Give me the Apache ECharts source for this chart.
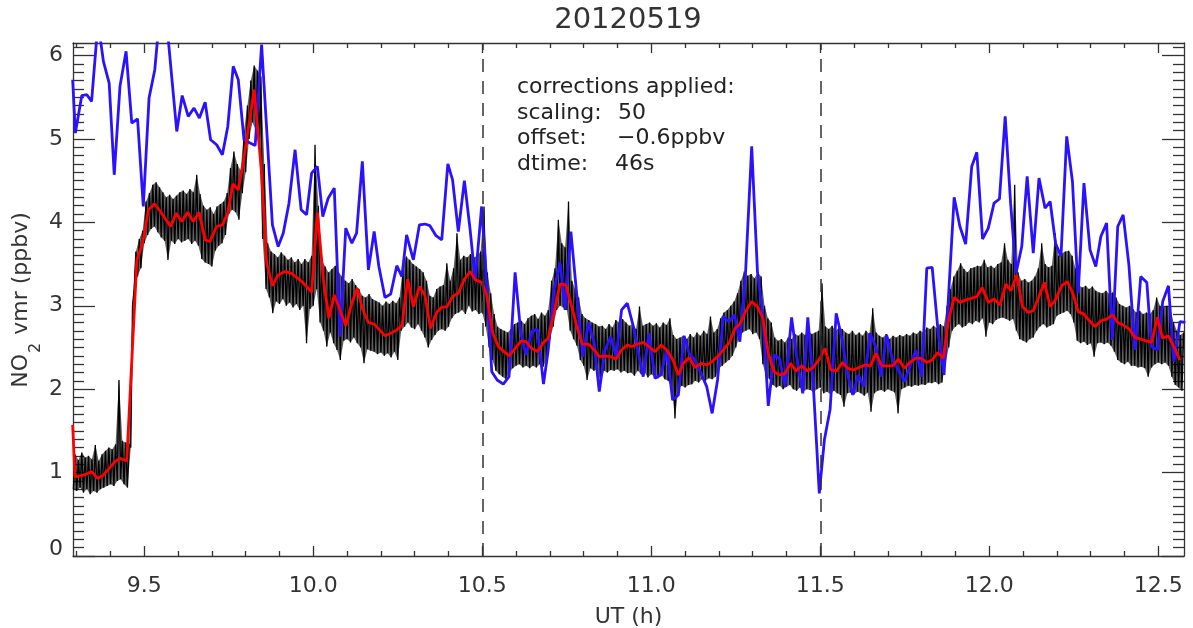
<!DOCTYPE html>
<html>
<head>
<meta charset="utf-8">
<script src="https://cdn.jsdelivr.net/npm/echarts@6/dist/echarts.min.js"></script>
<style>
  html, body { margin: 0; padding: 0; background: #ffffff; }
  #chart { width: 1193px; height: 628px; }
</style>
</head>
<body>
<div id="chart"></div>
<script>
// Axis extents: UT in hours, NO2 volume mixing ratio in ppbv
const utRange = [9.289, 12.576];
const vmrRange = [0, 6.15];
const utTickLabels = [9.5, 10.0, 10.5, 11.0, 11.5, 12.0, 12.5];
const vmrTickLabels = [0, 1, 2, 3, 4, 5, 6];
const segmentMarks = [10.5, 11.5];

// Fast NO2 trace (black): low / high of the signal in each 0.01 h bin starting at 9.29 UT
const fastStart = 9.29;
const fastStep = 0.01;
const fastHigh = [
  1.22,1.15,1.24,1.18,1.20,1.16,1.33,1.14,1.22,1.26,
  1.30,1.28,1.34,2.11,1.38,1.36,1.34,3.00,3.65,3.80,
  3.90,4.25,4.35,4.45,4.48,4.42,4.36,4.30,4.33,4.28,
  4.32,4.36,4.38,4.34,4.40,4.36,4.57,4.34,4.20,4.15,
  4.18,4.10,4.19,4.22,4.25,4.35,4.65,4.85,4.70,4.62,
  5.10,5.40,5.70,5.88,5.82,5.75,4.70,3.75,3.65,3.62,
  3.58,3.64,3.60,3.55,3.58,3.52,3.56,3.50,3.56,3.52,
  3.60,4.93,4.20,3.55,3.47,3.40,3.44,3.48,3.40,3.35,
  3.30,3.27,3.32,3.25,3.20,3.12,3.10,3.14,3.08,3.06,
  3.04,3.00,3.05,3.02,3.06,3.03,3.10,3.45,3.59,3.55,
  3.50,3.47,3.44,3.40,3.30,3.12,3.10,3.20,3.23,3.25,
  3.51,3.30,3.45,3.87,3.55,3.60,3.58,3.62,3.58,3.60,
  3.65,4.19,3.40,3.15,2.90,2.75,2.72,2.70,2.68,2.72,
  2.78,2.80,2.82,2.78,2.85,2.88,2.90,2.84,2.92,2.88,
  2.95,3.30,3.45,4.03,3.75,3.70,4.25,3.30,3.20,3.10,
  2.90,2.85,2.83,2.80,2.78,2.75,2.76,2.72,2.78,2.74,
  2.83,2.80,2.84,2.80,2.76,2.78,2.72,2.99,2.76,2.78,
  2.80,2.76,2.79,2.74,2.80,2.77,2.85,2.65,2.60,2.62,
  2.64,2.60,2.66,2.62,2.68,2.64,2.70,2.66,2.87,2.68,
  2.72,2.85,2.92,2.95,3.00,3.05,3.15,3.30,3.41,3.36,
  3.38,3.33,3.40,3.35,3.00,2.85,2.80,2.62,2.58,2.60,
  2.56,2.62,2.60,2.66,2.64,2.68,2.65,2.70,2.66,2.68,
  2.70,3.27,2.75,2.72,2.76,2.70,2.74,2.72,2.68,2.66,
  2.70,2.65,2.68,2.64,2.70,2.66,2.97,2.68,2.64,2.62,
  2.66,2.60,2.64,2.62,2.65,2.63,2.66,2.64,2.68,2.66,
  2.70,2.68,2.74,2.72,2.76,2.73,2.78,2.75,3.00,3.20,
  3.35,3.42,3.51,3.44,3.40,3.45,3.46,3.48,3.47,3.55,
  3.46,3.48,3.45,3.50,3.52,3.75,3.55,3.50,4.45,3.40,
  3.30,3.32,3.28,3.30,3.35,3.45,3.75,3.50,3.46,3.48,
  3.87,3.60,3.63,3.65,3.66,3.60,3.45,3.25,3.22,3.24,
  3.20,3.23,3.18,3.16,3.15,3.18,3.14,3.16,3.10,3.02,
  3.00,2.98,3.00,2.96,2.92,2.94,2.90,2.92,2.90,2.95,
  3.10,3.00,2.98,3.00,2.97,2.80,2.70,2.65,2.68
];
const fastLow = [
  0.80,0.78,0.82,0.76,0.80,0.74,0.78,0.76,0.80,0.82,
  0.84,0.86,0.84,0.90,0.92,0.86,0.82,1.30,3.20,3.35,
  3.45,3.75,3.85,3.92,3.95,3.88,3.82,3.78,3.55,3.78,
  3.74,3.80,3.76,3.78,3.80,3.74,3.78,3.72,3.56,3.52,
  3.50,3.47,3.66,3.72,3.75,3.85,4.10,4.15,4.12,4.03,
  4.35,4.60,5.00,5.20,5.10,4.90,3.80,3.20,3.10,2.91,
  3.05,3.02,3.08,3.00,3.04,2.98,3.02,2.95,3.00,2.55,
  2.96,3.00,3.20,2.80,2.70,2.51,2.68,2.55,2.47,2.35,
  2.58,2.60,2.56,2.62,2.55,2.50,2.31,2.48,2.46,2.45,
  2.42,2.44,2.40,2.43,2.38,2.45,2.35,2.70,2.75,2.80,
  2.74,2.72,2.78,2.70,2.62,2.50,2.59,2.65,2.70,2.72,
  2.70,2.75,2.85,2.90,2.92,2.95,2.90,3.00,2.93,2.95,
  2.90,2.92,2.75,2.50,2.35,2.22,2.18,2.15,2.12,2.20,
  2.25,2.28,2.30,2.26,2.28,2.25,2.28,2.26,2.30,2.27,
  2.35,2.60,2.75,2.95,3.00,2.98,2.95,2.70,2.60,2.52,
  2.35,2.28,2.11,2.25,2.22,2.24,2.08,2.22,2.20,2.23,
  2.22,2.24,2.20,2.22,2.19,2.20,2.16,2.22,2.18,2.20,
  2.14,2.18,2.15,2.13,2.17,2.12,2.10,2.02,1.65,2.00,
  2.04,2.02,2.05,2.06,2.10,2.08,2.12,2.10,2.13,2.12,
  2.15,2.25,2.28,2.32,2.35,2.40,2.50,2.62,2.68,2.70,
  2.72,2.66,2.68,2.60,2.30,2.15,2.12,2.05,2.02,2.04,
  2.00,2.03,2.05,2.00,1.98,2.02,1.97,2.00,1.99,1.96,
  2.00,2.02,1.95,1.97,1.94,1.98,1.95,1.93,1.79,1.95,
  1.96,1.94,1.97,1.95,1.92,1.96,1.73,1.95,1.98,1.99,
  1.97,2.00,1.98,1.96,1.71,2.00,2.02,2.04,2.03,2.05,
  2.04,2.06,2.05,2.08,2.07,2.09,2.06,2.08,2.30,2.50,
  2.70,2.75,2.78,2.74,2.76,2.80,2.78,2.82,2.80,2.85,
  2.63,2.80,2.78,2.83,2.85,2.86,2.84,2.82,2.84,2.70,
  2.60,2.58,2.56,2.60,2.62,2.70,2.75,2.78,2.74,2.76,
  2.78,2.88,2.90,2.92,2.94,2.90,2.80,2.58,2.55,2.57,
  2.53,2.55,2.39,2.55,2.56,2.54,2.56,2.52,2.45,2.35,
  2.32,2.30,2.33,2.28,2.28,2.26,2.27,2.25,2.15,2.26,
  2.30,2.32,2.30,2.32,2.28,2.15,2.05,2.02,1.98
];

// One-minute means of the fast trace (red): [UT h, ppbv]
const minuteMean = [
  [9.288,1.57],[9.295,0.95],[9.320,0.97],[9.344,1.01],[9.362,0.93],[9.379,0.97],[9.396,1.05],[9.413,1.13],
  [9.428,1.17],[9.448,1.14],[9.478,3.55],[9.495,3.75],[9.512,4.15],[9.530,4.22],[9.546,4.14],[9.561,4.05],
  [9.578,3.95],[9.594,4.11],[9.611,4.01],[9.628,4.12],[9.645,4.01],[9.662,4.12],[9.680,3.79],[9.694,3.77],
  [9.714,3.95],[9.731,3.97],[9.747,4.11],[9.762,4.46],[9.778,4.39],[9.793,4.73],[9.825,5.59],[9.847,4.59],
  [9.862,3.51],[9.879,3.24],[9.896,3.37],[9.916,3.41],[9.934,3.39],[9.951,3.34],[9.966,3.29],[9.980,3.23],
  [9.995,3.16],[10.012,4.12],[10.030,3.31],[10.046,2.85],[10.062,3.13],[10.079,2.95],[10.096,2.76],[10.114,3.03],
  [10.130,3.21],[10.145,2.97],[10.163,2.80],[10.180,2.78],[10.194,2.72],[10.212,2.64],[10.229,2.67],[10.247,2.71],
  [10.263,2.77],[10.279,3.32],[10.296,2.99],[10.314,3.23],[10.330,3.13],[10.347,2.73],[10.365,2.92],[10.379,2.98],
  [10.396,2.99],[10.412,3.11],[10.429,3.15],[10.446,3.31],[10.464,3.41],[10.480,3.31],[10.498,3.28],[10.513,3.13],
  [10.531,2.67],[10.548,2.51],[10.564,2.45],[10.580,2.40],[10.597,2.49],[10.615,2.58],[10.629,2.57],[10.646,2.49],
  [10.663,2.45],[10.681,2.56],[10.695,2.61],[10.712,2.91],[10.730,3.26],[10.747,3.25],[10.762,3.03],[10.779,2.76],
  [10.796,2.54],[10.814,2.54],[10.831,2.47],[10.846,2.39],[10.863,2.40],[10.880,2.39],[10.896,2.36],[10.912,2.47],
  [10.929,2.53],[10.943,2.51],[10.957,2.54],[10.976,2.56],[10.993,2.51],[11.011,2.45],[11.029,2.53],[11.046,2.47],
  [11.063,2.36],[11.080,2.17],[11.095,2.31],[11.112,2.38],[11.129,2.26],[11.147,2.31],[11.164,2.29],[11.180,2.33],
  [11.198,2.40],[11.215,2.48],[11.231,2.56],[11.248,2.73],[11.262,2.78],[11.279,2.93],[11.297,3.05],[11.314,2.99],
  [11.330,2.85],[11.346,2.43],[11.363,2.21],[11.379,2.17],[11.396,2.19],[11.412,2.31],[11.428,2.22],[11.445,2.28],
  [11.462,2.22],[11.479,2.26],[11.497,2.36],[11.514,2.49],[11.531,2.23],[11.549,2.22],[11.565,2.32],[11.581,2.25],
  [11.598,2.23],[11.615,2.26],[11.632,2.29],[11.649,2.28],[11.664,2.43],[11.682,2.28],[11.698,2.28],[11.714,2.28],
  [11.731,2.36],[11.749,2.25],[11.765,2.32],[11.782,2.37],[11.798,2.37],[11.815,2.32],[11.831,2.35],[11.847,2.44],
  [11.864,2.37],[11.878,2.80],[11.896,3.10],[11.913,3.04],[11.931,3.07],[11.948,3.09],[11.963,3.11],[11.979,3.22],
  [11.997,3.04],[12.014,3.08],[12.032,3.01],[12.049,3.26],[12.064,3.18],[12.081,3.37],[12.098,2.99],[12.115,2.92],
  [12.130,2.94],[12.147,3.11],[12.163,3.28],[12.180,2.99],[12.196,3.07],[12.214,3.24],[12.231,3.29],[12.247,3.15],
  [12.263,2.93],[12.280,2.90],[12.296,2.82],[12.313,2.75],[12.330,2.82],[12.347,2.84],[12.364,2.89],[12.380,2.80],
  [12.396,2.77],[12.414,2.72],[12.431,2.62],[12.448,2.60],[12.464,2.58],[12.480,2.56],[12.497,2.86],[12.513,2.61],
  [12.530,2.64],[12.546,2.51],[12.564,2.35]
];

// Comparison NO2 record (blue): [UT h, ppbv]
const comparison = [
  [9.288,5.71],[9.296,5.07],[9.315,5.52],[9.330,5.53],[9.344,5.45],[9.363,6.40],[9.379,5.93],[9.396,5.67],
  [9.411,4.57],[9.428,5.63],[9.446,6.05],[9.463,5.19],[9.480,5.24],[9.497,4.19],[9.514,5.49],[9.531,5.83],
  [9.548,6.60],[9.565,6.45],[9.596,5.09],[9.612,5.52],[9.630,5.27],[9.647,5.37],[9.663,5.25],[9.680,5.44],
  [9.696,4.99],[9.714,4.93],[9.731,4.81],[9.747,5.15],[9.763,5.87],[9.778,5.71],[9.795,4.99],[9.813,4.95],
  [9.828,4.92],[9.847,6.13],[9.879,3.97],[9.896,3.71],[9.911,3.87],[9.928,4.23],[9.946,4.87],[9.964,4.15],
  [9.980,4.09],[9.995,4.59],[10.012,4.67],[10.028,4.07],[10.044,4.29],[10.062,4.41],[10.079,2.63],[10.096,3.93],
  [10.114,3.75],[10.128,3.87],[10.145,4.73],[10.163,3.43],[10.180,3.89],[10.194,3.47],[10.212,3.10],[10.229,3.14],
  [10.247,3.48],[10.262,3.35],[10.276,3.85],[10.296,3.55],[10.314,3.97],[10.330,3.98],[10.345,3.96],[10.363,3.84],
  [10.380,3.79],[10.398,4.70],[10.412,4.51],[10.429,3.89],[10.447,4.50],[10.464,3.91],[10.479,3.30],[10.498,4.19],
  [10.513,3.25],[10.528,2.21],[10.544,2.11],[10.562,2.06],[10.579,2.15],[10.597,3.40],[10.614,2.67],[10.629,2.41],
  [10.646,2.69],[10.663,2.72],[10.681,2.06],[10.695,2.47],[10.712,3.19],[10.730,3.52],[10.745,2.95],[10.762,3.89],
  [10.779,3.15],[10.797,2.39],[10.814,2.80],[10.831,2.55],[10.846,1.97],[10.863,2.47],[10.880,2.63],[10.896,2.39],
  [10.912,2.95],[10.929,3.03],[10.947,2.75],[10.962,2.43],[10.976,2.15],[10.993,2.67],[11.011,2.13],[11.028,2.17],
  [11.046,2.47],[11.063,1.87],[11.080,1.93],[11.097,2.64],[11.112,2.43],[11.129,2.35],[11.147,2.19],[11.164,2.03],
  [11.180,1.71],[11.196,2.11],[11.213,2.87],[11.230,2.81],[11.246,2.89],[11.262,2.57],[11.279,3.41],[11.297,4.91],
  [11.314,3.41],[11.330,2.89],[11.346,1.80],[11.363,2.41],[11.379,2.37],[11.396,2.03],[11.415,2.86],[11.430,2.39],
  [11.448,1.95],[11.463,2.86],[11.479,2.07],[11.497,0.75],[11.512,1.39],[11.529,1.76],[11.547,2.91],[11.565,2.59],
  [11.580,2.19],[11.596,1.93],[11.612,2.17],[11.629,2.03],[11.647,2.67],[11.664,2.51],[11.680,2.15],[11.696,2.65],
  [11.714,2.35],[11.731,2.23],[11.749,2.09],[11.765,2.27],[11.783,2.47],[11.800,2.15],[11.815,3.45],[11.831,3.46],
  [11.849,2.67],[11.866,2.17],[11.896,4.30],[11.913,3.95],[11.930,3.74],[11.948,4.67],[11.963,4.84],[11.980,3.80],
  [11.997,3.93],[12.014,4.23],[12.030,4.28],[12.047,5.27],[12.063,4.23],[12.079,3.39],[12.096,3.71],[12.112,4.55],
  [12.130,3.63],[12.147,4.53],[12.165,4.17],[12.180,4.25],[12.196,3.75],[12.212,3.59],[12.229,5.03],[12.246,4.49],
  [12.263,3.15],[12.280,4.47],[12.298,3.67],[12.315,3.47],[12.330,3.83],[12.347,3.99],[12.364,2.59],[12.380,3.95],
  [12.396,4.09],[12.413,3.49],[12.431,2.47],[12.448,3.35],[12.466,3.28],[12.480,2.51],[12.497,2.47],[12.513,3.05],
  [12.530,3.24],[12.546,2.33],[12.564,2.81],[12.580,2.80]
];

// Build the fast trace: it swings between the low and high value of every bin
const fastTrace = [];
fastHigh.forEach(function (hi, i) {
  const t = fastStart + i * fastStep;
  fastTrace.push([t, fastLow[i]], [t + fastStep / 2, hi]);
});

// Minor tick positions every 0.1 between the labelled ticks
function minorTicks(lo, hi, step, majors) {
  const out = [];
  for (let k = Math.ceil(lo / step - 1e-9); k * step <= hi + 1e-9; k++) {
    const v = +(k * step).toFixed(3);
    if (!majors.some(function (m) { return Math.abs(m - v) < 1e-6; })) out.push(v);
  }
  return out;
}
const utMinor = minorTicks(utRange[0], utRange[1], 0.1, utTickLabels);
const vmrMinor = minorTicks(vmrRange[0], vmrRange[1], 0.1, vmrTickLabels);

const FONT = 'DejaVu Sans';
const INK = '#333333';
const frameLine = { color: INK, width: 1.3 };

function xAxisDef(position, tickLen, ticks, withLine, withLabels) {
  const ax = {
    type: 'value', position: position, gridIndex: 0,
    min: utRange[0], max: utRange[1],
    axisLine: { show: withLine, onZero: false, lineStyle: frameLine },
    axisTick: { show: true, inside: true, length: tickLen, customValues: ticks, lineStyle: frameLine },
    axisLabel: { show: false },
    splitLine: { show: false }
  };
  if (withLabels) {
    ax.axisLabel = {
      show: true, customValues: utTickLabels, margin: 19,
      formatter: function (v) { return v.toFixed(1); },
      fontFamily: FONT, fontSize: 22, color: INK
    };
    ax.name = 'UT (h)';
    ax.nameLocation = 'middle';
    ax.nameGap = 50;
    ax.nameTextStyle = { fontFamily: FONT, fontSize: 22, color: INK };
  }
  return ax;
}

function yAxisDef(position, tickLen, ticks, withLine, withLabels) {
  const ax = {
    type: 'value', position: position, gridIndex: 0,
    min: vmrRange[0], max: vmrRange[1],
    axisLine: { show: withLine, onZero: false, lineStyle: frameLine },
    axisTick: { show: true, inside: true, length: tickLen, customValues: ticks, lineStyle: frameLine },
    axisLabel: { show: false },
    splitLine: { show: false }
  };
  if (withLabels) {
    ax.axisLabel = {
      show: true, customValues: vmrTickLabels, margin: 10,
      // the label at the bottom corner sits a little higher, clear of the UT labels
      formatter: function (v) { return v === 0 ? '{lift|0}' : String(v); },
      rich: { lift: { fontFamily: FONT, fontSize: 22, color: INK, padding: [0, 0, 14, 0] } },
      fontFamily: FONT, fontSize: 22, color: INK
    };
  }
  return ax;
}

// Width of a string in a given font, used to lay out the rotated y-axis title
const measureCtx = document.createElement('canvas').getContext('2d');
function textWidth(str, size) {
  measureCtx.font = size + 'px "' + FONT + '"';
  return measureCtx.measureText(str).width;
}
const yTitleParts = ['NO', '2', ' vmr (ppbv)'];
const wMain1 = textWidth(yTitleParts[0], 22);
const wSub = textWidth(yTitleParts[1], 16);
const wMain2 = textWidth(yTitleParts[2], 22);
const yTitleStart = -(wMain1 + wSub + 2 + wMain2) / 2;

const noteStyle = function (str) {
  return { text: str, fontFamily: FONT, fontSize: 22, fill: '#222222', verticalAlign: 'middle' };
};

// Shaded spread of the fast signal: upper edge forward, lower edge back
function renderSpread(params, api) {
  const pts = [];
  for (let i = 0; i < fastHigh.length; i++) {
    pts.push(api.coord([fastStart + i * fastStep + fastStep / 2, fastHigh[i]]));
  }
  for (let i = fastLow.length - 1; i >= 0; i--) {
    pts.push(api.coord([fastStart + i * fastStep, fastLow[i]]));
  }
  return {
    type: 'polygon',
    shape: { points: pts },
    style: { fill: 'rgba(0,0,0,0.62)', stroke: null }
  };
}

const chart = echarts.init(document.getElementById('chart'), null, { renderer: 'canvas' });
chart.setOption({
  animation: false,
  backgroundColor: '#ffffff',
  grid: { left: 73, right: 9, top: 43, bottom: 72, containLabel: false, outerBoundsMode: 'none' },
  xAxis: [
    xAxisDef('bottom', 10, utTickLabels, true, true),
    xAxisDef('bottom', 5, utMinor, false, false),
    xAxisDef('top', 10, utTickLabels, true, false),
    xAxisDef('top', 5, utMinor, false, false)
  ],
  yAxis: [
    yAxisDef('left', 22, vmrTickLabels, true, true),
    yAxisDef('left', 11, vmrMinor, false, false),
    yAxisDef('right', 22, vmrTickLabels, true, false),
    yAxisDef('right', 11, vmrMinor, false, false)
  ],
  graphic: [
    { type: 'text', x: 628, y: 20, style: { text: '20120519', fontFamily: FONT, fontSize: 29, fill: INK, align: 'center', verticalAlign: 'middle' } },
    {
      type: 'group', x: 21, y: 300, rotation: Math.PI / 2,
      children: [
        { type: 'text', x: yTitleStart, y: 0, style: { text: yTitleParts[0], fontFamily: FONT, fontSize: 22, fill: INK, verticalAlign: 'middle' } },
        { type: 'text', x: yTitleStart + wMain1 + 1, y: 15, style: { text: yTitleParts[1], fontFamily: FONT, fontSize: 16, fill: INK, verticalAlign: 'middle' } },
        { type: 'text', x: yTitleStart + wMain1 + wSub + 2, y: 0, style: { text: yTitleParts[2], fontFamily: FONT, fontSize: 22, fill: INK, verticalAlign: 'middle' } }
      ]
    },
    { type: 'text', x: 517, y: 87, style: noteStyle('corrections applied:') },
    { type: 'text', x: 517, y: 113, style: noteStyle('scaling:') },
    { type: 'text', x: 618, y: 113, style: noteStyle('50') },
    { type: 'text', x: 517, y: 138, style: noteStyle('offset:') },
    { type: 'text', x: 617, y: 138, style: noteStyle('\u22120.6ppbv') },
    { type: 'text', x: 517, y: 164, style: noteStyle('dtime:') },
    { type: 'text', x: 615, y: 164, style: noteStyle('46s') }
  ],
  series: [
    {
      name: 'spread', type: 'custom', xAxisIndex: 0, yAxisIndex: 0,
      data: [[10.9, 3]], renderItem: renderSpread, silent: true, z: 1, clip: true
    },
    {
      name: 'fast', type: 'line', xAxisIndex: 0, yAxisIndex: 0,
      data: fastTrace, showSymbol: false, symbol: 'none', sampling: null,
      lineStyle: { color: '#000000', width: 1.3 }, z: 2,
      markLine: {
        silent: true, symbol: 'none', animation: false,
        label: { show: false },
        lineStyle: { color: INK, width: 1.5, type: [13, 9] },
        data: segmentMarks.map(function (t) { return { xAxis: t }; })
      }
    },
    {
      name: 'comparison', type: 'line', xAxisIndex: 0, yAxisIndex: 0,
      data: comparison, showSymbol: false, symbol: 'none',
      lineStyle: { color: '#2a12ff', width: 2.8 }, z: 3
    },
    {
      name: 'mean', type: 'line', xAxisIndex: 0, yAxisIndex: 0,
      data: minuteMean, showSymbol: false, symbol: 'none',
      lineStyle: { color: '#ff0000', width: 2.8 }, z: 4
    }
  ]
});
</script>
</body>
</html>
